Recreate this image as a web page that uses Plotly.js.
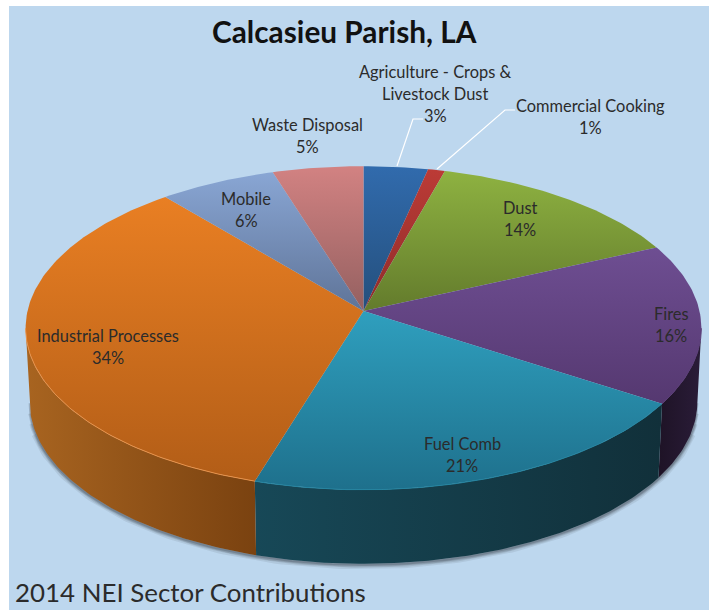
<!DOCTYPE html>
<html>
<head>
<meta charset="utf-8">
<script src="https://cdn.plot.ly/plotly-3.0.1.min.js"></script>
<style>html,body{margin:0;padding:0;background:#fff}#chart{width:709px;height:610px}</style>
</head>
<body>
<div id="chart"></div>
<script>
// ---- data (percent share, clockwise from 12 o'clock)
const categories = ["Agriculture - Crops & Livestock Dust","Commercial Cooking","Dust","Fires","Fuel Comb","Industrial Processes","Mobile","Waste Disposal"];
const shares = [3.4,0.9,13.9,16.0,20.5,34.3,6.2,4.8];

// ---- styles
const topStart = ["#316BAD","#BC3B36","#8EB241","#6E4E92","#2F9FBE","#E97F23","#89A6D4","#D28282"];
const topStop  = ["#244F7C","#8E2C2A","#637B2C","#553870","#1E708C","#B25D17","#5F7498","#946060"];
const wallStart = [null,null,null,"#1E1326","#174857","#A86420",null,null];
const wallStop  = [null,null,null,"#2A1C38","#11303A","#7A4210",null,null];
const rimColor  = [null,null,null,"#5A3C76","#2584A0","#E8924A",null,null];
const labelLines = [["Agriculture - Crops &","Livestock Dust"],["Commercial Cooking"],["Dust"],["Fires"],["Fuel Comb"],["Industrial Processes"],["Mobile"],["Waste Disposal"]];
const labelCx = [435,590,520,671,462,108,246,307];
const labelTop = [71,105,207,313,443,335,198,124];

// ---- projection of the tilted disc onto the page
const cx=363.5, cy=311, R=336, A=160, P=0.105, DEPTH=74, SHRINK=0.988;
function upper(f){const t=2*Math.PI*f/100,u=Math.sin(t),v=-Math.cos(t),s=1/(1-P*v);return [cx+R*u*s,cy+A*v*s];}
function lower(f){const p=upper(f);return [cx+(p[0]-cx)*SHRINK,p[1]+DEPTH];}
function steps(a,b){const n=Math.max(2,Math.ceil((b-a)/0.25)),o=[];for(let i=0;i<=n;i++)o.push(a+(b-a)*i/n);return o;}
const WALL_FROM=26.7, WALL_TO=73.3;

const wallTraces=[], topTraces=[], rimTraces=[], shadowTraces=[];
let acc=0;
shares.forEach((val,i)=>{
  const a=acc,b=acc+val;acc=b;
  const arc=steps(a,b).map(upper);
  const xs=[cx].concat(arc.map(p=>p[0]),[cx]);
  const ys=[cy].concat(arc.map(p=>p[1]),[cy]);
  topTraces.push({type:"scatter",mode:"lines",name:categories[i],x:xs,y:ys,fill:"toself",
    line:{width:0},hoverinfo:"name",
    fillgradient:{type:"vertical",colorscale:[[0,topStart[i]],[1,topStop[i]]],start:Math.min(...ys),stop:Math.max(...ys)}});
  const wa=Math.max(a,WALL_FROM),wb=Math.min(b,WALL_TO);
  if(wb>wa&&wallStart[i]){
    const up=steps(wa,wb).map(upper),lo=steps(wa,wb).map(lower).reverse();
    const wx=up.concat(lo).map(p=>p[0]),wy=up.concat(lo).map(p=>p[1]);
    wx.push(wx[0]);wy.push(wy[0]);
    wallTraces.push({type:"scatter",mode:"lines",x:wx,y:wy,fill:"toself",line:{width:0},hoverinfo:"skip",
      fillgradient:{type:"horizontal",colorscale:[[0,wallStart[i]],[1,wallStop[i]]],start:Math.min(...wx),stop:Math.max(...wx)}});
    rimTraces.push({type:"scatter",mode:"lines",x:up.map(p=>p[0]),y:up.map(p=>p[1]),line:{width:1,color:rimColor[i]},hoverinfo:"skip"});
  }
});
[[9,0.10,3],[6,0.14,2],[4,0.20,1],[2,0.26,0]].forEach(s=>{
  const under=steps(WALL_FROM+s[2],WALL_TO-s[2]).map(lower);
  shadowTraces.push({type:"scatter",mode:"lines",x:under.map(p=>p[0]),y:under.map(p=>p[1]+1),
    line:{width:s[0],color:"rgba(55,62,72,"+s[1]+")"},hoverinfo:"skip"});
});

const LINE=22.3;
const annotations=[];
function txt(t,x,y,size,opt){annotations.push(Object.assign({text:t,x:x,y:y,xref:"x",yref:"y",showarrow:false,xanchor:"center",yanchor:"middle",
  font:{family:"Lato, 'Open Sans', sans-serif",size:size,color:"#2b2b2b"}},opt||{}));}
shares.forEach((val,i)=>{
  const lines=labelLines[i].concat([Math.round(val)+"%"]);
  lines.forEach((t,k)=>txt(t,labelCx[i],labelTop[i]+k*LINE,16.4));
});
txt("<b>Calcasieu Parish, LA</b>",344,31,29.8,{font:{family:"Lato, sans-serif",size:29.8,color:"#111"}});
txt("2014 NEI Sector Contributions",13,592,25.9,{xanchor:"left"});

const shapes=[
 {type:"rect",layer:"below",xref:"x",yref:"y",x0:9,x1:709,y0:6,y1:610,fillcolor:"#BDD7EE",line:{width:0}},
 {type:"path",xref:"x",yref:"y",path:"M397,166 L413,119 L423,119",line:{color:"#fff",width:1.2}},
 {type:"path",xref:"x",yref:"y",path:"M437,169 L505,110 L515,110",line:{color:"#fff",width:1.2}}
];

Plotly.newPlot("chart",[].concat(shadowTraces,wallTraces,topTraces,rimTraces),{
  width:709,height:610,margin:{l:0,r:0,t:0,b:0},showlegend:false,
  paper_bgcolor:"#fff",plot_bgcolor:"rgba(0,0,0,0)",
  xaxis:{range:[0,709],visible:false,fixedrange:true},
  yaxis:{range:[610,0],visible:false,fixedrange:true},
  shapes:shapes,annotations:annotations
},{displayModeBar:false,staticPlot:true});
</script>
</body>
</html>
